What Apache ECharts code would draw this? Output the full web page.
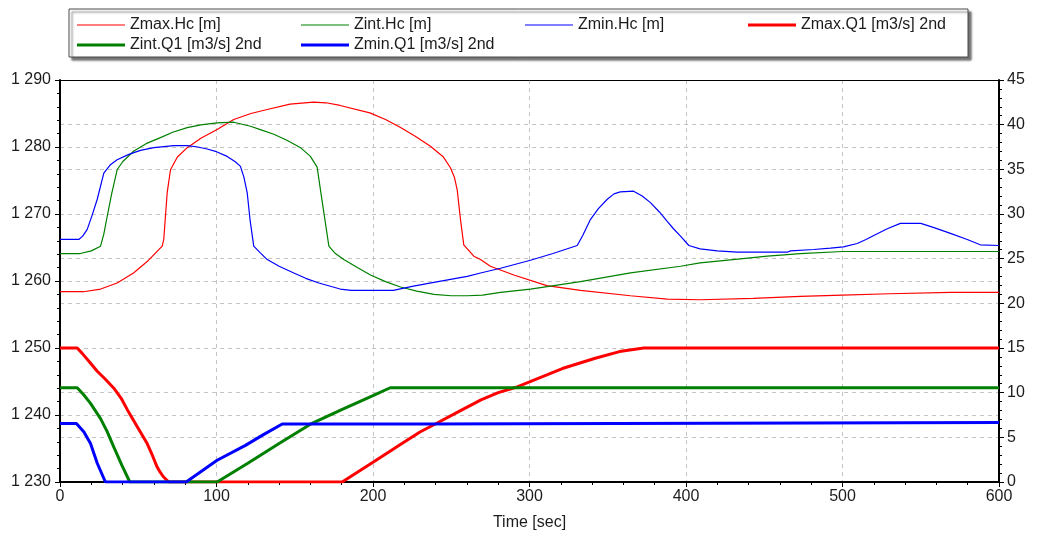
<!DOCTYPE html>
<html>
<head>
<meta charset="utf-8">
<script src="https://cdn.jsdelivr.net/npm/echarts@6/dist/echarts.min.js"></script>
<style>
  html, body { margin: 0; padding: 0; background: #ffffff; }
  #chart { width: 1037px; height: 537px; }
</style>
</head>
<body>
<div id="chart"></div>
<script>
// Water level at the three nodes [m] (left axis), time [sec] -> level
const zmaxHc = [[0,1258.4],[15,1258.4],[26,1258.8],[36.5,1259.7],[47,1261.2],[55.7,1262.9],[65.3,1265.2],[66.3,1266.2],[68.5,1273.2],[70.6,1276.6],[75,1278.5],[81.3,1279.9],[90,1281.3],[100.4,1282.6],[111,1284.1],[122,1285],[132.4,1285.6],[147,1286.4],[162,1286.7],[170,1286.6],[179,1286.2],[198,1285.1],[208,1284.1],[217.6,1282.9],[227,1281.6],[236.7,1280.1],[245,1278.5],[249.5,1276.9],[252,1275.5],[253.8,1273.6],[256,1269],[258,1265.4],[264.4,1263.7],[268.7,1263.2],[275,1262.2],[290,1260.9],[311,1259.3],[332.6,1258.6],[364.5,1257.8],[388,1257.3],[409,1257.2],[443,1257.4],[473,1257.7],[500,1257.9],[530,1258.1],[569,1258.3],[600,1258.3]];
const zintHc = [[0,1264.1],[13,1264.1],[20,1264.5],[25.9,1265.2],[28,1267],[30.2,1269.7],[33,1273],[36.5,1276.6],[40,1277.8],[47.2,1279.4],[55,1280.5],[64.2,1281.4],[72,1282.2],[81.3,1282.9],[90,1283.3],[100.4,1283.6],[111,1283.7],[121.7,1283.1],[128,1282.6],[136.6,1281.9],[145,1281],[153.7,1279.9],[160,1278.6],[164.3,1277],[166.5,1273.5],[168.6,1270.2],[171.8,1265.2],[176,1264.1],[181.3,1263.2],[190,1262],[198.4,1260.9],[208,1259.9],[217.6,1259.1],[228,1258.5],[238.9,1258],[250,1257.8],[260.2,1257.8],[270,1257.9],[281.5,1258.3],[300.6,1258.8],[332.6,1259.9],[364.5,1261.2],[396.5,1262.2],[409,1262.7],[430,1263.2],[452,1263.7],[473,1264.1],[500,1264.4],[600,1264.4]];
const zminHc = [[0,1266.2],[12,1266.2],[14.5,1266.7],[17.4,1267.7],[20.5,1269.8],[23.8,1272.2],[28,1276.1],[32,1277.3],[36.5,1278.1],[44,1278.9],[51.4,1279.5],[60,1279.9],[72.7,1280.2],[81.3,1280.2],[88,1280],[94,1279.7],[100,1279.3],[106.8,1278.6],[112,1277.8],[115.3,1277.1],[117.5,1275.5],[119.6,1273.2],[121.5,1269],[123.8,1265.2],[128,1264.2],[132.4,1263.2],[140,1262.2],[149.4,1261.2],[157,1260.4],[165.4,1259.7],[179,1258.8],[186,1258.6],[213,1258.6],[225,1259.2],[238.9,1259.8],[260.2,1260.7],[268.7,1261.2],[281.5,1261.9],[300.6,1263.1],[315,1264.1],[330.5,1265.3],[334,1266.8],[339,1269.2],[344,1270.8],[349.7,1272.2],[354,1273],[358,1273.3],[366.5,1273.4],[372,1272.7],[377.3,1271.7],[383,1270.3],[388,1268.9],[392,1267.8],[396.5,1266.7],[401.8,1265.3],[409,1264.8],[420,1264.5],[432.7,1264.3],[464.6,1264.3],[466.8,1264.5],[481.5,1264.7],[492.3,1264.9],[500.6,1265.1],[509.4,1265.6],[515,1266.2],[520,1266.8],[528.6,1267.8],[537,1268.6],[550,1268.6],[558,1268],[569,1267.1],[579.7,1266.2],[588,1265.4],[600,1265.3]];

// Discharge Q1 [m3/s] (right axis), time [sec] -> flow
const zmaxQ1 = [[0,15],[11,15],[14.2,14.4],[19,13.4],[23.8,12.4],[29,11.5],[34.4,10.5],[39,9.4],[43,8.1],[49,6.3],[55.7,4.3],[59,3],[62,1.7],[64,1.1],[66.2,0.56],[69.5,0],[180.3,0],[200,2.2],[217.5,4.2],[230,5.6],[241,6.6],[255,7.9],[269,9.2],[280,10],[291.4,10.6],[300,11.2],[321,12.7],[342,13.85],[357.5,14.6],[373,15],[600,15]];
const zintQ1 = [[0,10.55],[11,10.55],[15,9.8],[19.5,8.8],[25.9,7.1],[30,5.7],[34.4,3.9],[39.5,1.9],[44.6,0],[100.4,0],[120,2.1],[140,4.3],[160,6.47],[180,8.1],[200,9.67],[211,10.55],[600,10.55]];
const zminQ1 = [[0,6.55],[10.5,6.55],[15.3,5.6],[19.5,4.3],[23.8,2.1],[29,0],[80.6,0],[100.4,2.43],[118.5,4.1],[130,5.3],[142,6.5],[234,6.5],[234.5,6.65],[600,6.65]];

// Axis ranges and tick steps
const timeTicks = [0, 600, 100];
const levelTicks = [1230, 1290, 10];
const flowTicks = [0, 45, 5];

const seriesNames = ['Zmax.Hc [m]', 'Zint.Hc [m]', 'Zmin.Hc [m]', 'Zmax.Q1 [m3/s] 2nd', 'Zint.Q1 [m3/s] 2nd', 'Zmin.Q1 [m3/s] 2nd'];

const FONT = '"Liberation Sans", Arial, sans-serif';
const TXT = '#1c1c1c';
const RED = '#ff0000', GREEN = '#008000', BLUE = '#0000ff';

function spaced(v) {
  return String(v).replace(/\B(?=(\d{3})+(?!\d))/g, ' ');
}

const gridLine = { show: true, lineStyle: { color: '#c4c4c4', type: [4, 4], width: 1 } };
const axisLineBlack = { show: true, onZero: false, lineStyle: { color: '#000', width: 2 } };
const tickStyle = { show: true, length: 5, lineStyle: { color: '#000', width: 1 } };
const minorTickStyle = { show: true, splitNumber: 5, length: 3, lineStyle: { color: '#000', width: 1 } };

// one legend entry per box cell; the swatch is a plain stroke as wide as the series line
function legendAt(name, left, top, thick) {
  return {
    data: [name],
    left: left, top: top,
    icon: 'rect',
    itemWidth: 48, itemHeight: thick,
    selectedMode: false,
    textStyle: { fontFamily: FONT, fontSize: 16, color: TXT }
  };
}

function lineSeries(name, data, color, width, yIdx) {
  return {
    name: name, type: 'line', data: data, yAxisIndex: yIdx, xAxisIndex: 0,
    symbol: 'none', smooth: false, animation: false,
    lineStyle: { color: color, width: width },
    itemStyle: { color: color },
    z: width > 2 ? 3 : 4
  };
}

const chart = echarts.init(document.getElementById('chart'), null, { renderer: 'canvas' });
chart.setOption({
  backgroundColor: '#ffffff',
  animation: false,
  textStyle: { fontFamily: FONT },
  graphic: [{
    type: 'rect',
    shape: { x: 69, y: 9, width: 899, height: 48 },
    style: { fill: '#ffffff', stroke: '#4a4a4a', lineWidth: 1, shadowColor: 'rgba(0,0,0,0.55)', shadowOffsetX: 3, shadowOffsetY: 3, shadowBlur: 2 },
    z: -1
  }],
  legend: [
    legendAt(seriesNames[0], 72, 12, 1),
    legendAt(seriesNames[1], 296, 12, 1),
    legendAt(seriesNames[2], 520, 12, 1),
    legendAt(seriesNames[3], 743, 12, 3),
    legendAt(seriesNames[4], 72, 32, 3),
    legendAt(seriesNames[5], 296, 32, 3)
  ],
  grid: { left: 60, right: 38, top: 80, bottom: 55, containLabel: false },
  xAxis: [{
    type: 'value', min: timeTicks[0], max: timeTicks[1], interval: timeTicks[2],
    position: 'bottom',
    name: 'Time [sec]', nameLocation: 'middle', nameGap: 33,
    nameTextStyle: { fontFamily: FONT, fontSize: 16, color: TXT },
    axisLine: axisLineBlack,
    axisTick: tickStyle,
    minorTick: minorTickStyle,
    axisLabel: { fontFamily: FONT, fontSize: 16, color: TXT, margin: 7 },
    splitLine: gridLine
  }, {
    type: 'value', min: timeTicks[0], max: timeTicks[1], interval: timeTicks[2],
    position: 'top',
    axisLine: { show: true, onZero: false, lineStyle: { color: '#000', width: 1 } },
    axisTick: { show: false }, axisLabel: { show: false }, splitLine: { show: false }
  }],
  yAxis: [{
    type: 'value', min: levelTicks[0], max: levelTicks[1], interval: levelTicks[2],
    position: 'left',
    axisLine: axisLineBlack,
    axisTick: tickStyle,
    minorTick: minorTickStyle,
    axisLabel: { fontFamily: FONT, fontSize: 16, color: TXT, margin: 9, formatter: spaced },
    splitLine: gridLine
  }, {
    type: 'value', min: flowTicks[0], max: flowTicks[1], interval: flowTicks[2],
    position: 'right',
    axisLine: axisLineBlack,
    axisTick: tickStyle,
    minorTick: minorTickStyle,
    axisLabel: { fontFamily: FONT, fontSize: 16, color: TXT, margin: 8 },
    splitLine: gridLine
  }],
  series: [
    lineSeries(seriesNames[0], zmaxHc, RED, 1.2, 0),
    lineSeries(seriesNames[1], zintHc, GREEN, 1.2, 0),
    lineSeries(seriesNames[2], zminHc, BLUE, 1.2, 0),
    lineSeries(seriesNames[3], zmaxQ1, RED, 3, 1),
    lineSeries(seriesNames[4], zintQ1, GREEN, 3, 1),
    lineSeries(seriesNames[5], zminQ1, BLUE, 3, 1)
  ]
});
</script>
</body>
</html>
